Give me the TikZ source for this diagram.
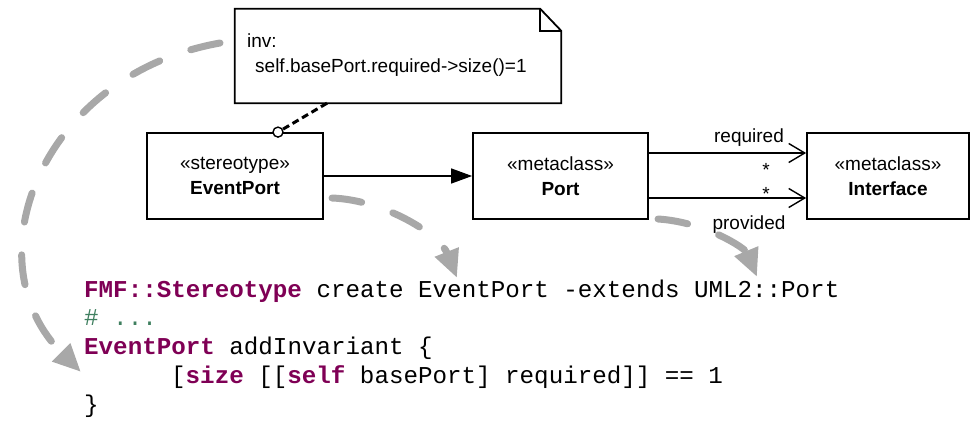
\documentclass[tikz,border=0pt]{standalone}
\usepackage{fontspec}
\setmainfont{Liberation Sans}
\setmonofont{Liberation Mono}
\usetikzlibrary{arrows.meta}
\definecolor{kw}{HTML}{7F0055}
\definecolor{cmt}{HTML}{3F7F5F}
\definecolor{flow}{HTML}{A8A8A8}
\newcommand{\kwd}[1]{\textcolor{kw}{\bfseries #1}}

\begin{document}
\begin{tikzpicture}[x=1pt,y=-1pt,
  umlbox/.style={draw, line width=1.8pt, minimum width=#1, minimum height=86pt,
    inner sep=0pt, align=center, font=\fontsize{19}{25}\selectfont},
  txt/.style={inner sep=0pt, font=\fontsize{19}{23}\selectfont},
  codeline/.style={anchor=base west, inner sep=0pt, font=\fontsize{24.2}{29}\ttfamily},
  assoc/.style={line width=1.4pt, -{Straight Barb[length=16pt,width=19pt]}},
  generalize/.style={line width=1.4pt, -{Triangle[length=21pt,width=15pt]}},
  anchorline/.style={line width=3pt, dash pattern=on 7pt off 4pt},
  flowarrow/.style={draw=flow, line width=7pt, line cap=round,
    dash pattern=on 30pt off 33pt, -{Triangle[length=28pt,width=24pt]}}
]
\useasboundingbox (0,0) rectangle (971,420);

% OCL note with folded corner
\node[minimum width=326pt, minimum height=94pt, inner sep=0pt] (note) at (398,56) {};
\draw[line width=1.8pt, line join=miter]
  (note.south west) -- (note.north west) -- ([xshift=-21pt]note.north east)
  -- ([yshift=-22pt]note.north east) -- (note.south east) -- cycle;
\draw[line width=1.8pt]
  ([xshift=-21pt]note.north east) -- ([xshift=-21pt,yshift=-22pt]note.north east)
  -- ([yshift=-22pt]note.north east);
\node[txt, anchor=base west] (inv) at (247,48) {inv:};
\node[txt, anchor=base west] (ocl) at (255,72) {self.basePort.required->size()=1};

% classes
\node[umlbox=176pt] (ep) at (235,176) {«stereotype»\\\textbf{EventPort}};
\node[umlbox=175pt] (port) at (560.5,176) {«metaclass»\\\textbf{Port}};
\node[umlbox=162pt] (iface) at (888,176) {«metaclass»\\\textbf{Interface}};

% note anchor
\coordinate (pin) at ([xshift=43pt]ep.north);
\coordinate (noteend) at ([xshift=-71pt]note.south);
\draw[anchorline] (noteend) -- (pin);
\draw[line width=1.4pt, fill=white] (pin) circle (5pt);

% extension and associations
\draw[generalize] (ep.east) -- (port.west);
\draw[assoc] ([yshift=23pt]port.east) -- ([yshift=23pt]iface.west);
\draw[assoc] ([yshift=-22pt]port.east) -- ([yshift=-22pt]iface.west);
\node[txt, anchor=base] (lreq) at (749,142) {required};
\node[txt, anchor=base] (mreq) at (766,176.5) {*};
\node[txt, anchor=base] (mprov) at (766,200.5) {*};
\node[txt, anchor=base] (lprov) at (749,229) {provided};

% generated code
\node[codeline] (c1) at (84,297) {\kwd{FMF::Stereotype} create EventPort -extends UML2::Port};
\node[codeline] (c2) at (84,325.8) {\textcolor{cmt}{\# ...}};
\node[codeline] (c3) at (84,354.6) {\kwd{EventPort} addInvariant \{};
\node[codeline] (c4) at (171,383.4) {[\kwd{size} [[\kwd{self} basePort] required]] == 1};
\node[codeline] (c5) at (84,412.2) {\}};

% mapping arrows
\coordinate (f1s) at (220,43);
\coordinate (f1e) at (81,372);
\coordinate (f2s) at (332,198);
\coordinate (f2e) at (457,278);
\coordinate (f3s) at (658,219);
\coordinate (f3e) at (757,277);
\draw[flowarrow] (f1s) .. controls (40,75) and (-30,262) .. (f1e);
\draw[flowarrow] (f2s) .. controls (385,200) and (440,235) .. (f2e);
\draw[flowarrow] (f3s) .. controls (705,222) and (745,248) .. (f3e);
\end{tikzpicture}
\end{document}
